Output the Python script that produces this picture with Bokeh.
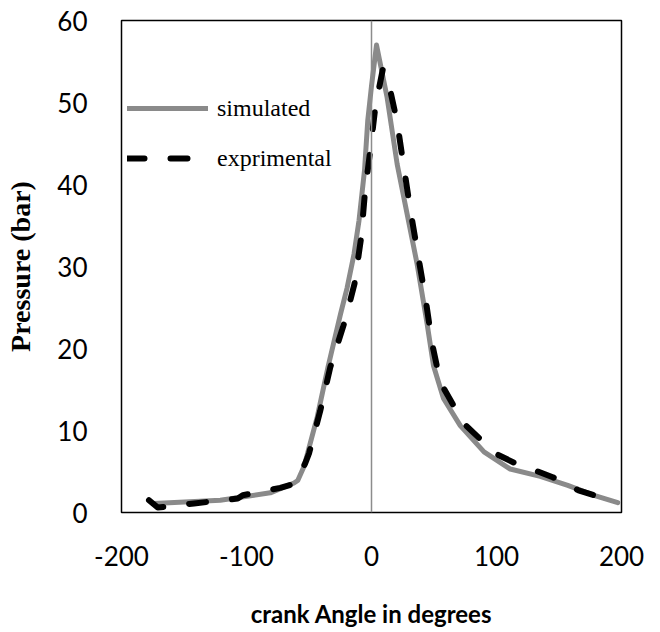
from bokeh.plotting import figure
from bokeh.models import Span, Legend, LegendItem, FixedTicker, Range1d
from bokeh.embed import file_html
from bokeh.resources import INLINE

# simulated pressure (grey solid)
sim_angle = [-174, -121, -81, -62, -59, -54, -43.5, -34.7, -24.8, -19.5, -14, -10, -5.6, -3,
             0, 4, 8, 12.5, 20.5, 28.5, 36.5, 44.5, 49.6, 57.6, 71, 90, 111, 135, 157, 178, 197]
sim_pressure = [1.1, 1.5, 2.4, 3.6, 3.9, 5.6, 11.6, 17.8, 24.2, 27.4, 31.5, 35.6, 41.7, 47.8,
                52.0, 57.0, 54.0, 50.6, 42.5, 36.4, 30.3, 23.0, 17.9, 13.9, 10.6, 7.4, 5.3, 4.4, 3.3, 2.1, 1.2]

# experimental pressure (black dashed)
exp_angle = [-178, -171, -142, -107, -103, -73, -62, -53, -50, -41, -33, -20.8, -13.6, -8.3,
             -5.3, -0.8, 3.2, 9, 13, 20.5, 25.9, 31.2, 37, 43.2, 48.5, 55, 73.6, 99, 115,
             133, 145, 165.6, 180, 197]
exp_pressure = [1.5, 0.6, 1.1, 1.7, 2.1, 3.0, 3.5, 6.0, 7.2, 12.4, 17.7, 23.6, 27.9, 33.5,
                38.9, 44.4, 49.6, 54.0, 52.9, 47.6, 42.1, 36.8, 31.6, 26.1, 20.6, 15.9, 10.9, 7.2, 6.0,
                5.0, 4.3, 2.7, 2.0, 1.5]

x_ticks = [-200, -100, 0, 100, 200]
x_tick_labels = ["-200", "-100", "0", "100", "200"]
y_ticks = [0, 10, 20, 30, 40, 50, 60]

p = figure(width=660, height=632, output_backend="svg", toolbar_location=None,
           x_range=Range1d(-200, 200), y_range=Range1d(0, 60),
           min_border_left=121, min_border_right=39, min_border_top=20, min_border_bottom=120)
p.xgrid.visible = False
p.ygrid.visible = False
p.outline_line_color = "black"
p.outline_line_width = 1.5
p.background_fill_color = "white"
p.border_fill_color = "white"

for ax in (p.xaxis, p.yaxis):
    ax.major_tick_line_color = None
    ax.minor_tick_line_color = None
    ax.axis_line_color = None
    ax.major_label_text_font = "Lato"
    ax.major_label_text_font_size = "26px"
    ax.major_label_text_color = "black"

p.xaxis.ticker = FixedTicker(ticks=x_ticks)
p.xaxis.major_label_overrides = {t: l for t, l in zip(x_ticks, x_tick_labels)}
p.yaxis.ticker = FixedTicker(ticks=y_ticks)
p.xaxis.major_label_standoff = 27
p.yaxis.major_label_standoff = 28

p.yaxis.axis_label = "Pressure (bar)"
p.yaxis.axis_label_text_font = "Liberation Serif"
p.yaxis.axis_label_text_font_style = "bold"
p.yaxis.axis_label_text_font_size = "28px"
p.yaxis.axis_label_text_color = "black"
p.yaxis.axis_label_standoff = 18

p.xaxis.axis_label = "crank Angle in degrees"
p.xaxis.axis_label_text_font = "Lato"
p.xaxis.axis_label_text_font_style = "bold"
p.xaxis.axis_label_text_font_size = "24px"
p.xaxis.axis_label_text_color = "black"
p.xaxis.axis_label_standoff = 30

zero_line = Span(location=0, dimension="height", line_color="#8c8c8c", line_width=1.5)
p.add_layout(zero_line)

r_sim = p.line(sim_angle, sim_pressure, line_color="#8a8a8a", line_width=5, line_cap="round",
               line_join="round")
r_exp = p.line(exp_angle, exp_pressure, line_color="black", line_width=6,
               line_dash="17 26", line_cap="round", line_join="round")

legend = Legend(items=[LegendItem(label="simulated", renderers=[r_sim]),
                       LegendItem(label="exprimental", renderers=[r_exp])],
                location=(6, 334), glyph_width=81, glyph_height=40, spacing=10,
                label_standoff=9, padding=0, margin=0,
                border_line_alpha=0, background_fill_alpha=0,
                label_text_font="Liberation Serif", label_text_font_size="24px",
                label_text_color="black")
p.add_layout(legend)

open("out.html", "w").write(file_html(p, INLINE))
